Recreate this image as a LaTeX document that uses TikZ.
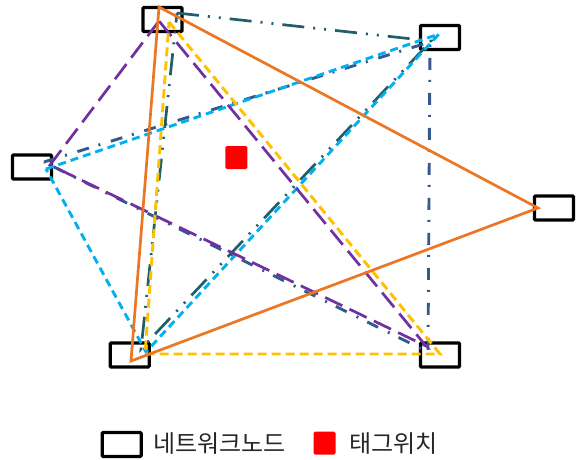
\documentclass[tikz,border=0pt]{standalone}
\usepackage{fontspec}
\newfontfamily\krfont{Noto Sans CJK KR}
\definecolor{cOrange}{HTML}{EB7724}
\definecolor{cYellow}{HTML}{FFC000}
\definecolor{cPurple}{HTML}{7030A0}
\definecolor{cLight}{HTML}{00B0F0}
\definecolor{cTeal}{HTML}{215E6C}
\definecolor{cDark}{HTML}{35598F}
\definecolor{cText}{HTML}{262626}
\tikzset{
  netbox/.style={draw=black, line width=3.2pt, minimum width=39pt, minimum height=24pt, inner sep=0pt, rounded corners=1pt},
  tagbox/.style={fill=red, minimum width=22pt, minimum height=23pt, inner sep=0pt, rounded corners=1.5pt},
  legtext/.style={anchor=west, inner sep=0pt, font=\krfont\fontsize{24}{28}\selectfont, text=cText},
  orangeline/.style={cOrange, line width=2.7pt},
  yellowline/.style={cYellow, line width=2.9pt, dash pattern=on 9pt off 5pt},
  purpleline/.style={cPurple, line width=2.7pt, dash pattern=on 19pt off 8pt},
  lightline/.style={cLight, line width=2.9pt, dash pattern=on 8pt off 5pt},
  tealline/.style={cTeal, line width=2.7pt, dash pattern=on 22pt off 9pt on 2pt off 9pt on 2pt off 9pt},
  darkline/.style={cDark, line width=2.9pt, dash pattern=on 12pt off 10pt on 2pt off 11pt},
}
\begin{document}
\begin{tikzpicture}[x=1pt, y=-1pt]
\useasboundingbox (0,0) rectangle (576,459);
% network nodes
\node[netbox] (nT)  at (162.5,19.5) {};
\node[netbox] (nTR) at (440,37.5) {};
\node[netbox] (nL)  at (32,167) {};
\node[netbox] (nR)  at (554,208) {};
\node[netbox] (nBL) at (129.7,355) {};
\node[netbox] (nBR) at (440,355) {};
% tag
\node[tagbox] (tag) at (236.3,157.5) {};
% vertices
\coordinate (o1) at (159,7);
\coordinate (o2) at (538,208);
\coordinate (o3) at (131,361);
\coordinate (y1) at (169,22);
\coordinate (y2) at (440,354);
\coordinate (y3) at (145,354);
\coordinate (p1) at (159,21);
\coordinate (p2) at (50,165);
\coordinate (p3) at (426,346);
\coordinate (l1) at (46,169);
\coordinate (l2) at (439,34);
\coordinate (l3) at (146,352);
\coordinate (t1) at (177,13);
\coordinate (t2) at (431,41);
\coordinate (t3) at (141,349);
\coordinate (d1) at (44,162);
\coordinate (d2) at (430,42);
\coordinate (d3) at (428,352);
% triangles
\draw[darkline] (d1) -- (d2) -- (d3) -- cycle;
\draw[tealline] (t1) -- (t2) -- (t3) -- cycle;
\draw[lightline] (l1) -- (l2) -- (l3) -- cycle;
\draw[purpleline] (p1) -- (p2) -- (p3) -- cycle;
\draw[yellowline] (y1) -- (y2) -- (y3) -- cycle;
\draw[orangeline] (o1) -- (o2) -- (o3) -- cycle;
% legend
\node[netbox] (legbox) at (121.7,444.5) {};
\node[legtext] (legnet) at (153,444) {네트워크노드};
\node[tagbox] (legtag) at (324.5,443) {};
\node[legtext] (legtagt) at (349,444) {태그위치};
\end{tikzpicture}
\end{document}
